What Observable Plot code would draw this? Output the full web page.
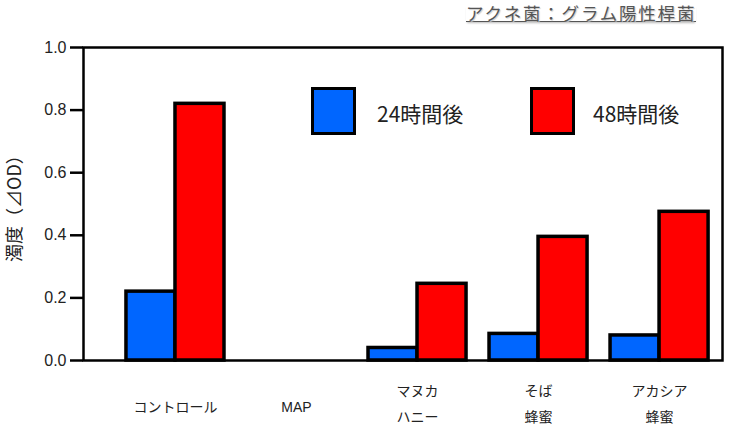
<!DOCTYPE html>
<html><head><meta charset="utf-8">
<script src="https://cdn.jsdelivr.net/npm/d3@7"></script>
<script src="https://cdn.jsdelivr.net/npm/@observablehq/plot@0.6"></script>
<style>
body{margin:0;background:#fff;}
#wrap{position:relative;width:730px;height:424px;overflow:hidden;}
#title{position:absolute;top:5px;left:466px;font-family:"Noto Sans CJK JP",sans-serif;font-size:17.5px;letter-spacing:1.8px;color:#555;line-height:15px;padding-bottom:1px;border-bottom:1.5px solid #555;box-shadow:0 2px 2px -1px #bbb;text-shadow:1px 1px 1px #ccc;}
.lg{position:absolute;box-sizing:border-box;border:3.5px solid #000;width:45px;height:48px;}
.lt{position:absolute;font-family:"Noto Sans CJK JP",sans-serif;font-size:21px;color:#222;line-height:24px;}
</style></head>
<body><div id="wrap"></div>
<script>
const categories = ["コントロール", "MAP", "マヌカ\nハニー", "そば\n蜂蜜", "アカシア\n蜂蜜"];
const series = ["24時間後", "48時間後"];
const values24 = [0.22, 0, 0.04, 0.085, 0.08];
const values48 = [0.82, 0, 0.245, 0.395, 0.475];
const colors = ["#0066ff", "#ff0000"];
const yTicks = [0, 0.2, 0.4, 0.6, 0.8, 1.0];
const titleText = "アクネ菌：グラム陽性桿菌";
const yLabel = "濁度（⊿OD）";

const w = 0.405;
const rows = [];
categories.forEach((c, i) => {
  [values24[i], values48[i]].forEach((v, s) => {
    if (v > 0) rows.push({i, cat: c, s, series: series[s], value: v});
  });
});
const cats = categories.map((c, i) => ({i, c, multi: c.includes("\n")}));

const chart = Plot.plot({
  width: 730, height: 424,
  marginLeft: 83, marginRight: 8, marginTop: 47, marginBottom: 64,
  style: {fontFamily: "'Liberation Sans', 'Noto Sans CJK JP', sans-serif", background: "#fff"},
  x: {domain: [-0.76, 4.52], axis: null},
  y: {domain: [0, 1], axis: null},
  color: {domain: series, range: colors},
  marks: [
    Plot.rectY(rows, {
      x1: d => d.i + (d.s - 1) * w, x2: d => d.i + d.s * w,
      y1: 0, y2: "value", fill: "series", stroke: "#000", strokeWidth: 3.5
    }),
    Plot.frame({stroke: "#000", strokeWidth: 2.5}),
    Plot.axisY({ticks: yTicks, tickFormat: d3.format(".1f"), tickSize: 13, tickPadding: 4, strokeWidth: 2.5, fontSize: 16, fill: "#222", anchor: "left", label: null}),
    Plot.text(cats.filter(d => !d.multi), {x: "i", text: "c", frameAnchor: "bottom", dy: 47, lineAnchor: "middle", fontSize: 14, fill: "#222"}),
    Plot.text(cats.filter(d => d.multi), {x: "i", text: "c", frameAnchor: "bottom", dy: 40.5, lineAnchor: "middle", lineHeight: 1.8, fontSize: 14, fill: "#222"}),
    Plot.text([yLabel], {frameAnchor: "left", textAnchor: "middle", dx: -68, rotate: -90, fontSize: 18, fill: "#222", fontFamily: "'Noto Sans CJK JP', sans-serif"})
  ]
});

const wrap = document.getElementById("wrap");
wrap.appendChild(chart);
const t = document.createElement("div");
t.id = "title"; t.textContent = titleText;
wrap.appendChild(t);
// legend
const legendPos = [{box: 311, text: 377}, {box: 530, text: 593}];
series.forEach((s, k) => {
  const b = document.createElement("div");
  b.className = "lg";
  b.style.left = legendPos[k].box + "px"; b.style.top = "87px";
  b.style.background = colors[k];
  wrap.appendChild(b);
  const tx = document.createElement("div");
  tx.className = "lt"; tx.textContent = s;
  tx.style.left = legendPos[k].text + "px"; tx.style.top = "101px";
  wrap.appendChild(tx);
});
</script>
</body></html>
